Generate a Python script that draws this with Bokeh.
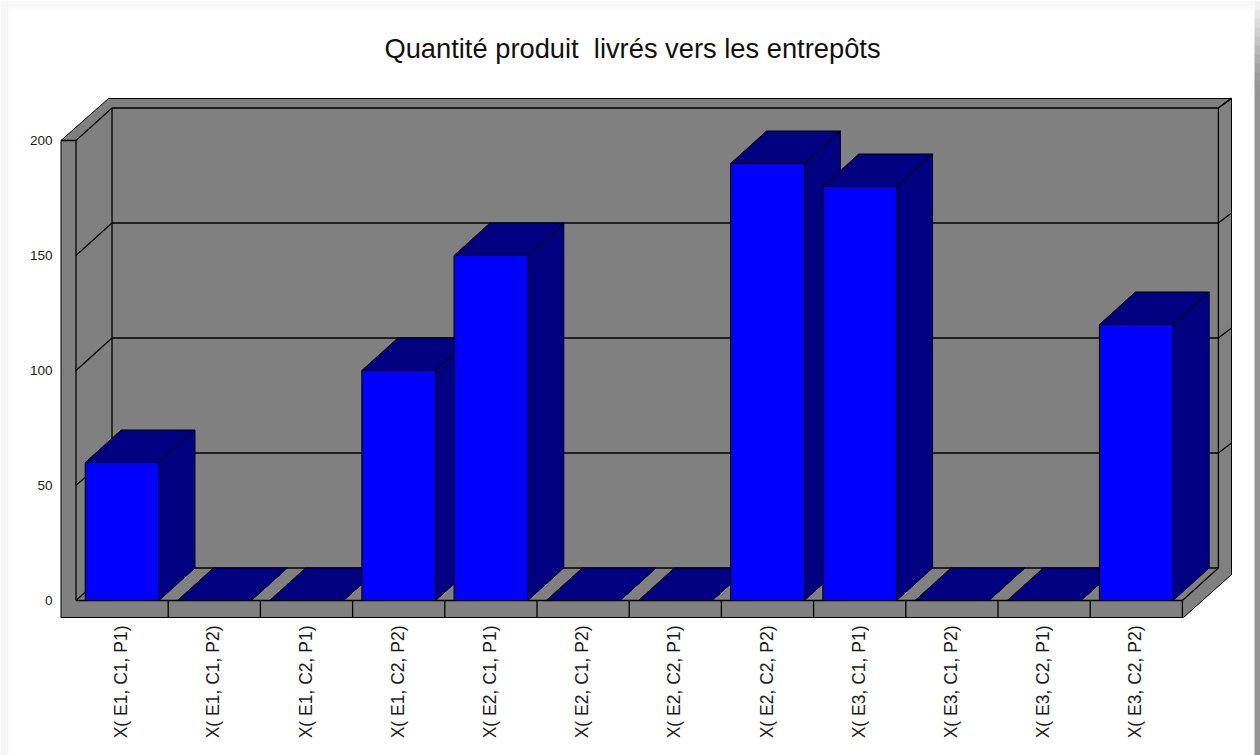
from bokeh.plotting import figure
from bokeh.models import Range1d
from bokeh.core.properties import value
from bokeh.embed import file_html
from bokeh.resources import INLINE

# ---- data
TITLE = "Quantité produit\u00a0 livrés vers les entrepôts"
CATEGORIES = ["X( E1, C1, P1)", "X( E1, C1, P2)", "X( E1, C2, P1)", "X( E1, C2, P2)",
              "X( E2, C1, P1)", "X( E2, C1, P2)", "X( E2, C2, P1)", "X( E2, C2, P2)",
              "X( E3, C1, P1)", "X( E3, C1, P2)", "X( E3, C2, P1)", "X( E3, C2, P2)"]
VALUES = [60, 0, 0, 100, 150, 0, 0, 190, 180, 0, 0, 120]
Y_TICKS = [0, 50, 100, 150, 200]

# ---- styles
GREY, BLUE, NAVY, INK = "#808080", "#0000ff", "#000080", "#000000"
STEP, UNIT = 92.2, 2.3               # px per category, px per value unit
X0, Y0 = 75.5, 600.0                 # px of category 0 / value 0, front plane
W, H = 1260, 755


def cx(px):
    return (px - X0) / STEP


def vy(py):
    return (Y0 - py) / UNIT


N = len(CATEGORIES)
DX, DY = 36 / STEP, 32.5 / UNIT      # depth of the 3D box
GAP, BW = 0.1, 0.8
YMAX = Y_TICKS[-1]

p = figure(width=W, height=H, output_backend="svg", toolbar_location=None,
           x_range=Range1d(cx(0), cx(W)), y_range=Range1d(vy(H), vy(0)),
           min_border=0, outline_line_color=None, background_fill_color="white",
           border_fill_color="white")
p.xaxis.visible = False
p.yaxis.visible = False
p.grid.visible = False

# soft card shadow: left, top, and a vertical fade on the right
p.quad(left=cx(0), right=cx(8), top=vy(0), bottom=vy(H), fill_color="#f5f5f5", line_color=None)
p.quad(left=cx(0), right=cx(1254), top=vy(0), bottom=vy(8), fill_color="#f8f8f8", line_color=None)
fade = ["#f2f2f2", "#e6e6e6", "#dcdcdc", "#d0d0d0", "#c4c4c4", "#b8b8b8", "#adadad",
        "#a3a3a3", "#9b9b9b", "#959595"]
for i, c in enumerate(fade):
    p.quad(left=cx(1254), right=cx(W), top=vy(i * 9), bottom=vy((i + 1) * 9 + 0.5), fill_color=c, line_color=None)
p.quad(left=cx(1254), right=cx(W), top=vy(90), bottom=vy(H), fill_color="#939393", line_color=None)

# box shell
R = cx(1231)
p.patch([cx(60.5), cx(108), R, R, cx(1183), cx(60.5)],
        [YMAX, vy(98), vy(98), vy(574), vy(617), vy(617)],
        fill_color=GREY, line_color=INK, line_width=1)

lines_x, lines_y = [], []


def seg(xs, ys):
    lines_x.append(xs)
    lines_y.append(ys)


BX0, BX1 = DX, N + DX
seg([BX0, BX0], [DY, YMAX + DY])                 # back wall left
seg([BX1, BX1], [DY, YMAX + DY])                 # back wall right
seg([BX0, BX1], [YMAX + DY, YMAX + DY])          # back wall top
seg([BX0, BX1], [DY, DY])                        # back wall bottom
seg([0, 0], [0, YMAX])                           # left wall front
seg([cx(60.5), 0], [YMAX, YMAX])
seg([0, N], [0, 0])                              # floor front
seg([N, BX1], [0, DY])                           # floor right
seg([N, N], [0, vy(617)])
seg([0, BX0], [0, DY])
for t in Y_TICKS[1:]:
    seg([0, BX0], [t, t + DY])
    seg([BX1, R], [t + DY, t + DY + 10 / UNIT])
    if t < YMAX:
        seg([BX0, BX1], [t + DY, t + DY])
seg([BX1, R], [YMAX + DY, vy(98)])
for i in range(1, N):
    seg([i, i], [0, vy(617)])
p.multi_line(lines_x, lines_y, line_color=INK, line_width=1.3)

# bars, back to front, left to right
for i, v in enumerate(VALUES):
    l, r = i + GAP, i + GAP + BW
    p.patch([r, r + DX, r + DX, r], [0, DY, v + DY, v], fill_color=NAVY, line_color="black", line_width=1)
    p.patch([l, r, r + DX, l + DX], [v, v, v + DY, v + DY], fill_color=NAVY, line_color="black", line_width=1)
    if v > 0:
        p.quad(left=l, right=r, bottom=0, top=v, fill_color=BLUE, line_color="black", line_width=1)

# texts
p.text(x=[cx(52)] * len(Y_TICKS), y=Y_TICKS, text=[str(t) for t in Y_TICKS],
       text_font=value("Liberation Sans"), text_font_size="13.5px", text_color="#1a1a1a",
       text_align="right", text_baseline="middle")
p.text(x=[i + 0.49 for i in range(N)], y=[vy(625)] * N, text=CATEGORIES, angle=1.5708,
       text_font=value("Liberation Sans"), text_font_size="17.5px", text_color="#1a1a1a",
       text_align="right", text_baseline="middle")
p.text(x=[cx(632)], y=[vy(47.5)], text=[TITLE],
       text_font=value("Liberation Sans"), text_font_size="27.3px", text_color="#111111",
       text_align="center", text_baseline="middle")

open("out.html", "w").write(file_html(p, INLINE))
